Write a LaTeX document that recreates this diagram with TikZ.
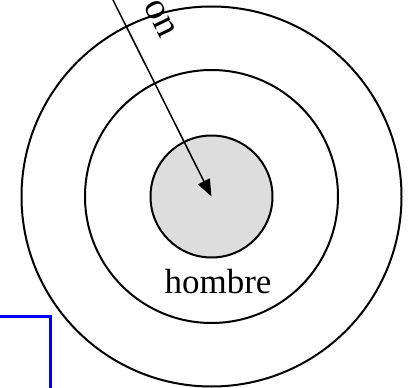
\documentclass[tikz,border=0pt]{standalone}
\usepackage{fontspec}
\setmainfont{Liberation Serif}
\usetikzlibrary{arrows.meta}
\begin{document}
\begin{tikzpicture}[x=1pt,y=-1pt,
  ring/.style={circle,draw=black,line width=2pt,inner sep=0pt},
  lbl/.style={inner sep=0pt,font=\fontsize{35}{40}\selectfont},
  arr/.style={line width=1.5pt,-{Triangle[length=17pt,width=13pt]}},
  bluebox/.style={draw=blue,line width=3pt}]
\useasboundingbox (0,0) rectangle (418,388);
\clip (0,0) rectangle (418,388);
\coordinate (c) at (211.5,196.5);
\coordinate (s) at (110,-6);
\node[ring,minimum size=380pt] (outer) at (c) {};
\node[ring,minimum size=253pt] (middle) at (c) {};
\node[ring,fill={rgb,255:red,221;green,221;blue,221},minimum size=122pt] (inner) at (c) {};
\draw[arr] (s) -- (c);
\node[lbl,rotate=-64,font=\fontsize{38}{42}\selectfont] (on) at (160,19) {on};
\node[lbl,anchor=base] (hombre) at (218,293) {hombre};
\coordinate (b1) at (-5,316);
\coordinate (b2) at (50,316);
\coordinate (b3) at (50,395);
\draw[bluebox] (b1) -- (b2) -- (b3);
\end{tikzpicture}
\end{document}
